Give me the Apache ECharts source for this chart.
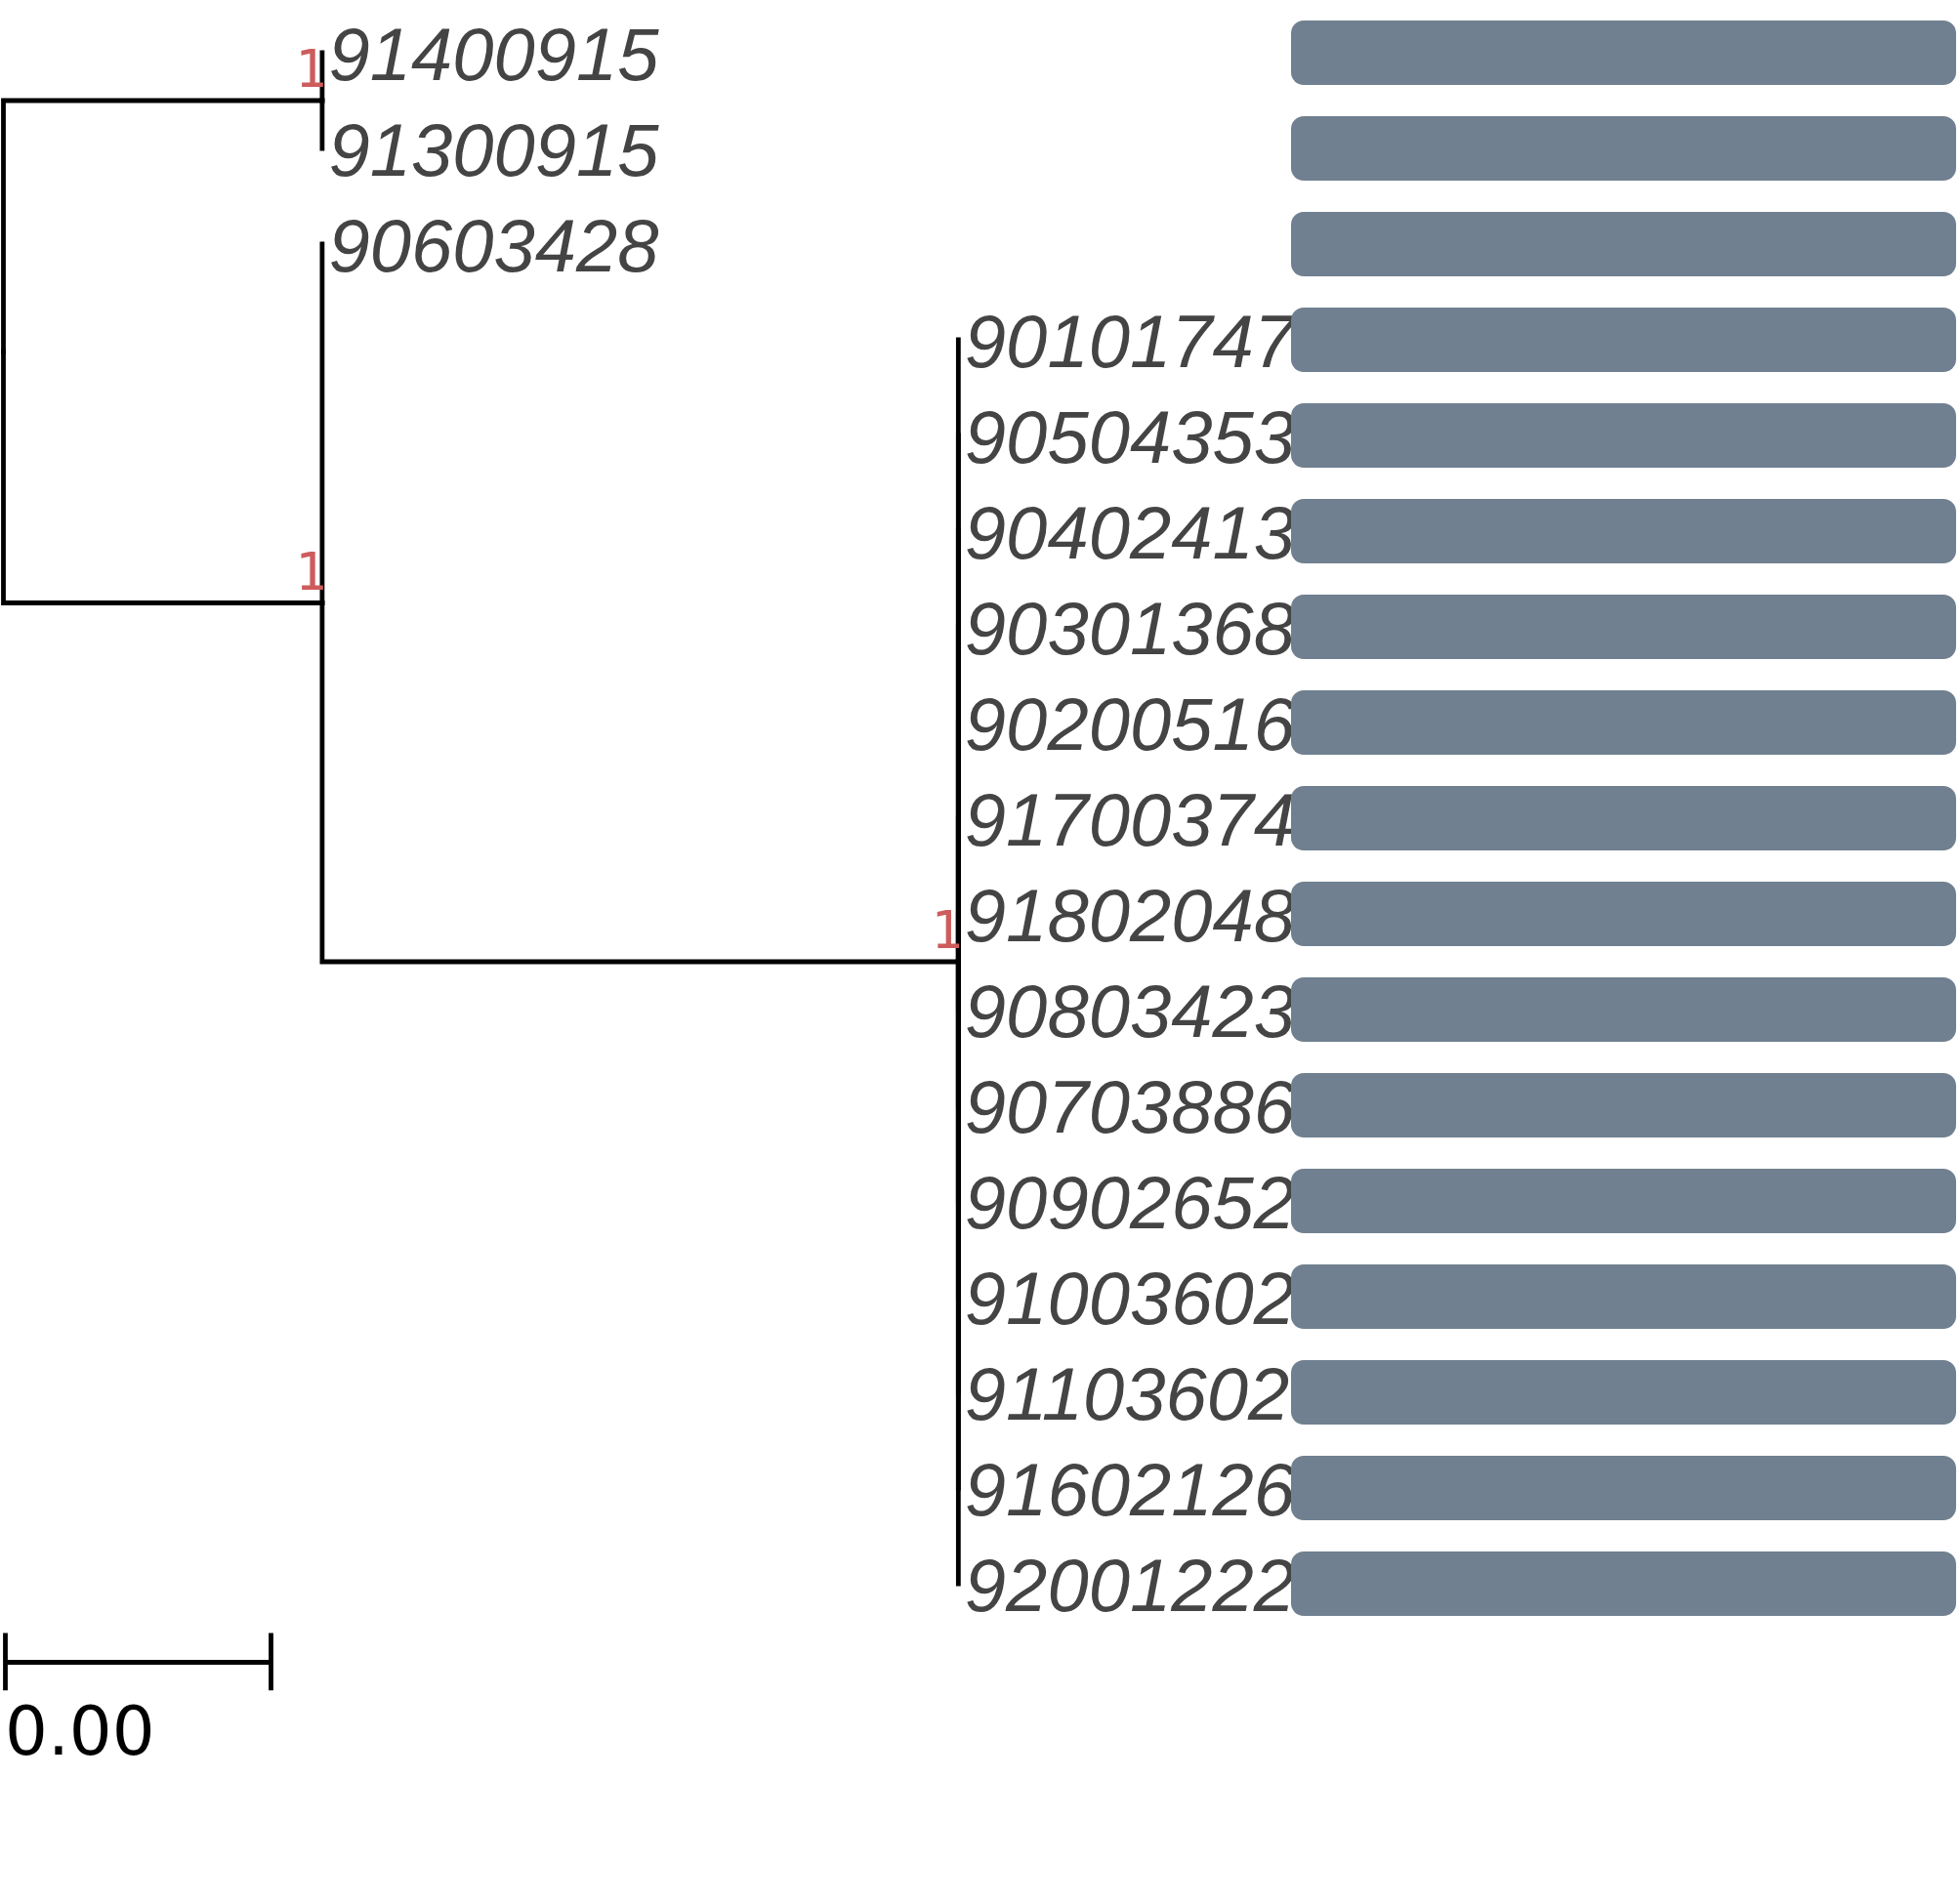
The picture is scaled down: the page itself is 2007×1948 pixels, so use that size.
<!DOCTYPE html>
<html>
<head>
<meta charset="utf-8">
<script src="https://cdn.jsdelivr.net/npm/echarts@6/dist/echarts.min.js"></script>
<style>
  html, body { margin: 0; padding: 0; background: #fff; }
  #chart { width: 2007px; height: 1948px; }
</style>
</head>
<body>
<div id="chart"></div>
<script>
// tips, top to bottom
const tipLabels = [
  "91400915", "91300915", "90603428", "90101747", "90504353", "90402413",
  "90301368", "90200516", "91700374", "91802048", "90803423", "90703886",
  "90902652", "91003602", "91103602", "91602126", "92001222",
];
const tipParents = [
  "A", "A", "B", "C", "C", "C", "C", "C", "C", "C", "C", "C", "C", "C", "C", "C", "C",
];
const tipLengths = [0, 0, 0, 0, 0, 0, 0, 0, 0, 0, 0, 0, 0, 0, 0, 0, 0];

// internal nodes
const nodeNames = ["root", "A", "B", "C"];
const nodeParents = [null, "root", "root", "B"];
const nodeLengths = [0, 0.0024, 0.0024, 0.00479];
const nodeSupport = ["", "1", "1", "1"];

// bars on the right
const barValues = [1, 1, 1, 1, 1, 1, 1, 1, 1, 1, 1, 1, 1, 1, 1, 1, 1];

// scale bar
const scaleBarWidth = 0.002;
const scaleBarLabel = "0.00";

// ---------- layout ----------
const nodes = new Map();
nodeNames.forEach((n, i) => nodes.set(n, { name: n, parent: nodeParents[i], len: nodeLengths[i], kids: [] }));
tipLabels.forEach((t, i) => nodes.set(t, { name: t, parent: tipParents[i], len: tipLengths[i], kids: [], y: i }));
for (const n of nodes.values()) if (n.parent) nodes.get(n.parent).kids.push(n);

function place(n, x) {
  n.x = x + n.len;
  for (const k of n.kids) place(k, n.x);
  if (n.kids.length) {
    const ys = n.kids.map((k) => k.y);
    n.y = (Math.min(...ys) + Math.max(...ys)) / 2;
  }
}
place(nodes.get("root"), 0);

const edges = [];
for (const n of nodes.values()) {
  if (!n.parent) continue;
  const p = nodes.get(n.parent);
  edges.push({ coords: [[p.x, p.y], [p.x, n.y], [n.x, n.y]] });
}

const supportPts = nodeNames
  .map((n, i) => ({ value: [nodes.get(n).x, nodes.get(n).y], txt: nodeSupport[i] }))
  .filter((d) => d.txt);

const tipPts = tipLabels.map((t) => ({ value: [nodes.get(t).x, nodes.get(t).y], txt: t }));

// scale bar placement (below the last tip)
const sbX = 0.000014;
const sbY = 16.816;
const sbTick = 0.3;
const scaleLines = [
  { coords: [[sbX, sbY], [sbX + scaleBarWidth, sbY]] },
  { coords: [[sbX, sbY - sbTick], [sbX, sbY + sbTick]] },
  { coords: [[sbX + scaleBarWidth, sbY - sbTick], [sbX + scaleBarWidth, sbY + sbTick]] },
];

const hidden = { color: "rgba(0,0,0,0)", opacity: 1 };

const chart = echarts.init(document.getElementById("chart"), null, { renderer: "canvas" });

chart.setOption({
  animation: false,
  backgroundColor: "#ffffff",
  grid: [
    { left: 3.5, top: 5, width: 1904, height: 1862 },
    { left: 1322, top: 5, width: 681, height: 1666 },
  ],
  xAxis: [
    { gridIndex: 0, type: "value", min: 0, max: 0.014, show: false },
    { gridIndex: 1, type: "value", min: 0, max: 1, show: false },
  ],
  yAxis: [
    { gridIndex: 0, type: "value", min: -0.5, max: 18.5, inverse: true, show: false },
    { gridIndex: 1, type: "category", data: tipLabels, inverse: true, show: false },
  ],
  series: [
    {
      type: "lines",
      coordinateSystem: "cartesian2d",
      polyline: true,
      xAxisIndex: 0,
      yAxisIndex: 0,
      silent: true,
      z: 3,
      lineStyle: { color: "#000", width: 4.8, cap: "square", join: "miter", opacity: 1 },
      data: edges,
    },
    {
      type: "lines",
      coordinateSystem: "cartesian2d",
      xAxisIndex: 0,
      yAxisIndex: 0,
      silent: true,
      z: 3,
      lineStyle: { color: "#000", width: 4.8, cap: "butt", opacity: 1 },
      data: scaleLines,
    },
    {
      type: "scatter",
      xAxisIndex: 0,
      yAxisIndex: 0,
      symbolSize: 1,
      itemStyle: hidden,
      silent: true,
      z: 2,
      data: tipPts,
      label: {
        show: true,
        position: "right",
        distance: 6,
        offset: [0, 7],
        formatter: (p) => p.data.txt,
        fontFamily: "Liberation Sans",
        fontStyle: "italic",
        fontSize: 76,
        color: "#444444",
      },
    },
    {
      type: "scatter",
      xAxisIndex: 0,
      yAxisIndex: 0,
      symbolSize: 1,
      itemStyle: hidden,
      silent: true,
      z: 4,
      data: supportPts,
      label: {
        show: true,
        position: "left",
        distance: 0,
        offset: [5, -28],
        formatter: (p) => p.data.txt,
        fontFamily: "'DejaVu Sans Mono', monospace",
        fontSize: 54,
        color: "#CD5C5C",
      },
    },
    {
      type: "scatter",
      xAxisIndex: 0,
      yAxisIndex: 0,
      symbolSize: 1,
      itemStyle: hidden,
      silent: true,
      z: 4,
      data: [{ value: [0, 17.6], txt: scaleBarLabel }],
      label: {
        show: true,
        position: "right",
        distance: 1,
        formatter: (p) => p.data.txt,
        fontFamily: "DejaVu Sans",
        fontSize: 69,
        color: "#000000",
      },
    },
    {
      type: "bar",
      xAxisIndex: 1,
      yAxisIndex: 1,
      silent: true,
      z: 5,
      barWidth: 66,
      itemStyle: { color: "#708090", borderRadius: 13 },
      data: barValues,
    },
  ],
});
</script>
</body>
</html>
